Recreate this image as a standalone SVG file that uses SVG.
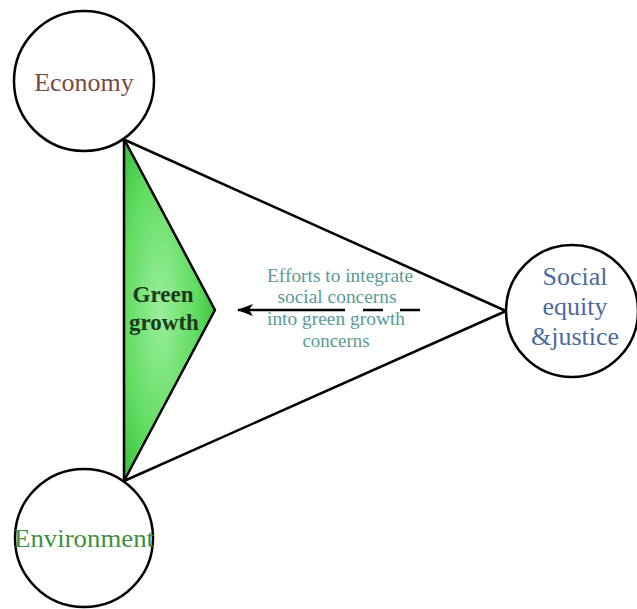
<svg xmlns="http://www.w3.org/2000/svg" width="637" height="609" viewBox="0 0 637 609">
<defs>
<style>
.node{fill:#fff;stroke:#000;stroke-width:2.5}
.lbl{font-family:"Liberation Serif","Times New Roman",serif;text-anchor:middle}
.conn{stroke:#000;stroke-width:2.5;fill:none}
</style>
<radialGradient id="gg" cx="0.4" cy="0.5" r="0.65">
<stop offset="0" stop-color="#9aee9a"/>
<stop offset="0.6" stop-color="#62dc62"/>
<stop offset="1" stop-color="#36c036"/>
</radialGradient>
<marker id="ah" markerWidth="16" markerHeight="12" refX="15" refY="6" orient="auto" markerUnits="userSpaceOnUse">
<path d="M0,0 L16,6 L0,12 L4,6 Z" fill="#000"/>
</marker>
</defs>
<rect width="637" height="609" fill="#fff"/>
<g id="connectors">
<line class="conn" x1="125" y1="140" x2="506" y2="311"/>
<line class="conn" x1="124" y1="481" x2="506" y2="311"/>
<line class="conn" x1="345" y1="310" x2="238" y2="310" marker-end="url(#ah)"/>
<line class="conn" x1="363" y1="310" x2="383" y2="310"/>
<line class="conn" x1="400" y1="310" x2="420" y2="310"/>
</g>
<g id="green-growth">
<polygon points="124,139 215,310 124,481" fill="url(#gg)" stroke="#000" stroke-width="2.5" stroke-linejoin="round"/>
<text class="lbl" x="163" y="302" font-size="23" font-weight="bold" fill="#1c3a1c">Green</text>
<text class="lbl" x="164" y="330" font-size="23" font-weight="bold" fill="#1c3a1c">growth</text>
</g>
<g id="economy">
<circle class="node" cx="84" cy="81" r="70"/>
<text class="lbl" x="84" y="91" font-size="26" fill="#7a4a3c">Economy</text>
</g>
<g id="environment">
<circle class="node" cx="84" cy="538" r="69"/>
<text class="lbl" x="84" y="547" font-size="26" fill="#3f8f3f" textLength="140" lengthAdjust="spacingAndGlyphs">Environment</text>
</g>
<g id="social">
<circle class="node" cx="572" cy="311" r="66"/>
<text class="lbl" x="575" y="285" font-size="26" fill="#4a6aa2">Social</text>
<text class="lbl" x="575" y="315" font-size="26" fill="#4a6aa2">equity</text>
<text class="lbl" x="575" y="345" font-size="26" fill="#4a6aa2">&amp;justice</text>
</g>
<g id="efforts-label" class="lbl" font-size="18" fill="#5a9a96">
<text x="340" y="282" textLength="146" lengthAdjust="spacingAndGlyphs">Efforts to integrate</text>
<text x="337" y="303" textLength="119" lengthAdjust="spacingAndGlyphs">social concerns</text>
<text x="336" y="325" textLength="138" lengthAdjust="spacingAndGlyphs">into green growth</text>
<text x="336" y="347" textLength="67" lengthAdjust="spacingAndGlyphs">concerns</text>
</g>
</svg>
